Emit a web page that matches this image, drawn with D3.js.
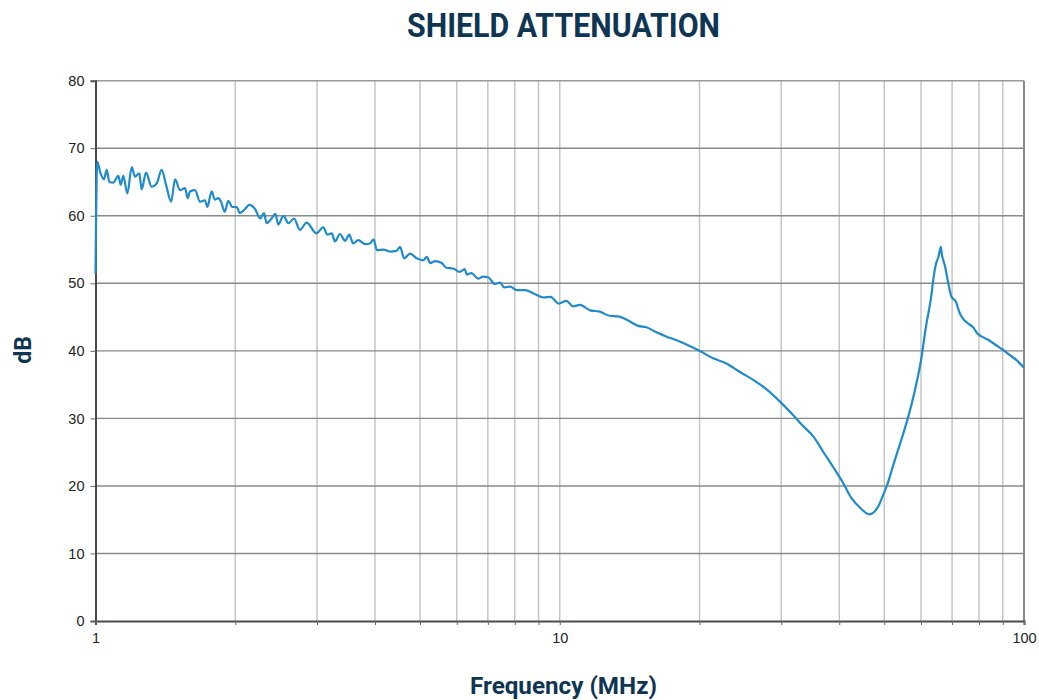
<!DOCTYPE html>
<html>
<head>
<meta charset="utf-8">
<script src="https://cdn.jsdelivr.net/npm/d3@7"></script>
<style>
  html, body { margin: 0; padding: 0; background: #fff; }
  svg { display: block; }
</style>
</head>
<body>
<svg id="chart" width="1039" height="700"></svg>
<script>
// ---- Data ----
const freqMHz = [
  1.000, 1.003, 1.006, 1.009, 1.023, 1.043, 1.057, 1.071, 1.092, 1.120, 1.133, 1.148, 1.171, 1.197,
  1.216, 1.243, 1.257, 1.285, 1.321, 1.355, 1.388, 1.419, 1.455, 1.484, 1.521, 1.559, 1.580, 1.598,
  1.638, 1.679, 1.721, 1.741, 1.779, 1.808, 1.838, 1.863, 1.899, 1.931, 1.973, 2.013, 2.048, 2.099,
  2.144, 2.206, 2.264, 2.307, 2.336, 2.395, 2.44, 2.476, 2.54, 2.603, 2.677, 2.755, 2.85, 2.99,
  3.095, 3.158, 3.229, 3.28, 3.36, 3.45, 3.52, 3.59, 3.68, 3.81, 3.90, 3.97, 4.04, 4.17, 4.31,
  4.45, 4.53, 4.62, 4.76, 4.92, 5.08, 5.17, 5.26, 5.39, 5.57, 5.70, 5.89, 6.09, 6.24, 6.31, 6.45,
  6.67, 6.84, 7.01, 7.25, 7.44, 7.59, 7.82, 8.08, 8.43, 8.78, 9.23, 9.56, 9.94, 10.33, 10.68,
  11.05, 11.62, 12.2, 12.8, 13.36, 13.94, 14.76, 15.37, 16.2, 17.0, 17.8, 18.8, 20.0, 21.4, 22.9,
  24.4, 26.1, 27.9, 30.0, 31.8, 33.4, 35.2, 36.9, 38.8, 40.8, 42.5, 44.3, 46.4, 48.3, 49.9, 50.7,
  52.4, 54.4, 56.2, 58.0, 60.0, 61.5, 63.1, 63.9, 64.7, 65.4, 66.2, 66.5, 67.6, 68.7, 69.8, 71.3,
  72.7, 73.8, 75.6, 77.7, 79.3, 81.2, 83.9, 86.8, 89.9, 93.1, 96.5, 100.0
];
const attenuationDb = [
  51.5, 60.0, 66.0, 68.0, 66.5, 65.4, 66.8, 65.0, 64.9, 65.9, 64.6, 65.9, 63.3, 67.2,
  65.8, 66.3, 63.9, 66.4, 64.3, 64.8, 66.8, 64.6, 62.1, 65.4, 63.8, 64.1, 62.6, 63.6,
  63.8, 62.1, 62.3, 61.3, 63.6, 62.4, 62.6, 62.1, 60.6, 62.2, 61.3, 61.3, 60.4, 61.0,
  61.6, 61.0, 59.6, 60.4, 58.9, 59.6, 60.3, 58.7, 60.0, 58.9, 59.6, 57.9, 59.0, 57.4,
  58.3, 57.2, 57.4, 56.2, 57.3, 56.3, 57.2, 55.9, 56.4, 55.8, 55.9, 56.5, 54.9, 55.0, 54.7,
  54.8, 55.4, 53.7, 54.4, 53.7, 53.4, 53.9, 53.0, 53.3, 53.0, 52.3, 52.2, 51.7, 52.1, 51.3, 51.5,
  50.7, 51.0, 50.9, 49.9, 50.1, 49.4, 49.5, 49.0, 49.0, 48.5, 47.9, 48.0, 47.0, 47.4, 46.6,
  46.8, 46.0, 45.8, 45.2, 45.1, 44.6, 43.7, 43.5, 42.7, 42.1, 41.6, 40.9, 40.0, 38.9, 38.1,
  36.9, 35.7, 34.3, 32.3, 30.5, 28.9, 27.3, 25.1, 22.8, 20.4, 18.2, 16.8, 15.8, 16.7, 18.9, 20.1,
  23.3, 26.8, 30.0, 33.7, 38.6, 43.6, 48.0, 51.0, 53.0, 53.9, 55.4, 54.4, 52.5, 50.0, 48.0, 47.3,
  45.6, 44.8, 44.1, 43.5, 42.6, 42.1, 41.6, 40.9, 40.2, 39.4, 38.6, 37.5
];
const yTicks = [0, 10, 20, 30, 40, 50, 60, 70, 80];
const xLabelTicks = [1, 10, 100];
const xMinorTicks = [1, 2, 3, 4, 5, 6, 7, 8, 9, 10, 20, 30, 40, 50, 60, 70, 80, 90, 100];
const titleText = "SHIELD ATTENUATION";
const xAxisTitle = "Frequency (MHz)";
const yAxisTitle = "dB";

// ---- Layout ----
const svg = d3.select("#chart");
const pLeft = 95.5, pRight = 1024, pTop = 80.7, pBottom = 621;
const navy = "#0e3553";

const x = d3.scaleLog().domain([1, 100]).range([pLeft, pRight]);
const y = d3.scaleLinear().domain([0, 80]).range([pBottom, pTop]);

// vertical grid (minor)
svg.append("g").selectAll("line")
  .data(xMinorTicks.filter(d => d > 1 && d < 100))
  .join("line")
  .attr("x1", d => x(d)).attr("x2", d => x(d))
  .attr("y1", pTop).attr("y2", pBottom)
  .attr("stroke", "#c2c2c2").attr("stroke-width", 1.4);

// horizontal grid
svg.append("g").selectAll("line")
  .data(yTicks.filter(d => d > 0))
  .join("line")
  .attr("x1", pLeft).attr("x2", pRight)
  .attr("y1", d => y(d)).attr("y2", d => y(d))
  .attr("stroke", d => d === 80 ? "#9a9a9a" : "#8a8a8a").attr("stroke-width", 1.4);

// right border
svg.append("line")
  .attr("x1", pRight).attr("x2", pRight).attr("y1", pTop).attr("y2", pBottom)
  .attr("stroke", "#8a8a8a").attr("stroke-width", 2);

// axes with D3
const yAxis = d3.axisLeft(y).tickValues(yTicks).tickSize(5).tickPadding(6)
  .tickFormat(d3.format("d"));
const yG = svg.append("g").attr("transform", `translate(${pLeft},0)`).call(yAxis);
yG.select(".domain").attr("stroke", "#4a4a4a").attr("stroke-width", 2);
yG.selectAll(".tick line").attr("stroke", "#666").attr("stroke-width", 1);
yG.selectAll(".tick text").attr("font-family", "Liberation Sans, Arial, sans-serif")
  .attr("font-size", 14.5).attr("fill", "#222");

const xAxis = d3.axisBottom(x).tickValues(xMinorTicks).tickSize(4).tickPadding(8)
  .tickFormat(d => xLabelTicks.includes(d) ? d3.format("d")(d) : "");
const xG = svg.append("g").attr("transform", `translate(0,${pBottom})`).call(xAxis);
xG.select(".domain").attr("stroke", "#4a4a4a").attr("stroke-width", 2);
xG.selectAll(".tick line").attr("stroke", "#666").attr("stroke-width", 1);
xG.selectAll(".tick text").attr("font-family", "Liberation Sans, Arial, sans-serif")
  .attr("font-size", 14.5).attr("fill", "#222");

// data line
const pts = freqMHz.map((f, i) => [f, attenuationDb[i]]);
svg.append("path")
  .datum(pts)
  .attr("fill", "none")
  .attr("stroke", "#1f8bcb")
  .attr("stroke-width", 2.2)
  .attr("stroke-linejoin", "round")
  .attr("d", d3.line().curve(d3.curveMonotoneX).x(d => x(d[0])).y(d => y(d[1])));

// titles
svg.append("text")
  .attr("x", 563.5).attr("y", 37)
  .attr("text-anchor", "middle")
  .attr("font-family", "Roboto, sans-serif").attr("font-weight", 700)
  .attr("font-size", 34).attr("fill", navy)
  .attr("textLength", 313).attr("lengthAdjust", "spacingAndGlyphs")
  .text(titleText);

svg.append("text")
  .attr("x", 563.5).attr("y", 694)
  .attr("text-anchor", "middle")
  .attr("font-family", "Roboto, sans-serif").attr("font-weight", 700)
  .attr("font-size", 24).attr("fill", navy)
  .attr("textLength", 187).attr("lengthAdjust", "spacingAndGlyphs")
  .text(xAxisTitle);

svg.append("text")
  .attr("transform", "translate(31,350) rotate(-90)")
  .attr("text-anchor", "middle")
  .attr("font-family", "Roboto, sans-serif").attr("font-weight", 700)
  .attr("font-size", 23).attr("fill", navy)
  .text(yAxisTitle);
</script>
</body>
</html>
